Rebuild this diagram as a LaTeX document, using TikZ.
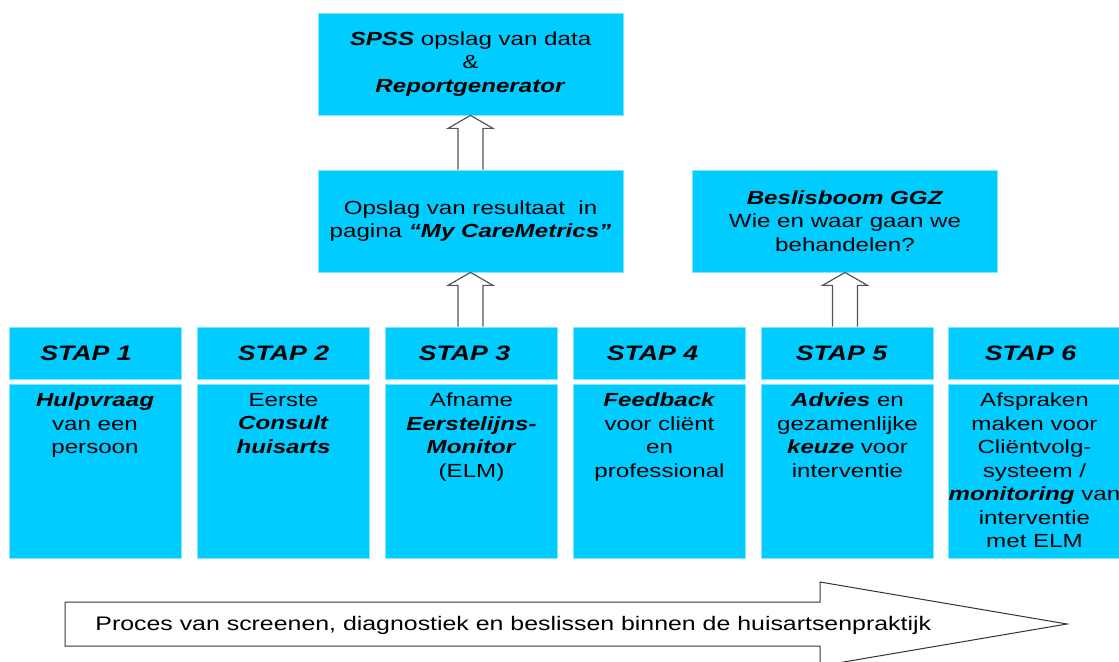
\documentclass[tikz,border=0pt]{standalone}
\usepackage{fontspec}
\setmainfont[FakeStretch=1.27]{Liberation Sans}
\usetikzlibrary{positioning,calc}

\definecolor{stapblue}{HTML}{00CCFF}
\definecolor{stapedge}{HTML}{80E6FF}
\definecolor{pijlgrijs}{HTML}{555555}

\newcommand{\vet}[1]{\textbf{\textit{#1}}}

% holle pijl van knoop #1 omhoog naar knoop #2
\newcommand{\holopijl}[2]{%
	\draw[holpijl] ($(#2.south |- #1.north)+(-12.5,0)$) -- ($(#2.south)+(-12.5,13)$)
		-- ($(#2.south)+(-22.5,13)$) -- (#2.south) -- ($(#2.south)+(22.5,13)$)
		-- ($(#2.south)+(12.5,13)$) -- ($(#2.south |- #1.north)+(12.5,0)$);
}

\tikzset{
	vak/.style={rectangle, fill=stapblue, draw=stapedge, line width=0.4pt, inner sep=0pt},
	stapkop/.style={vak, minimum width=86pt, minimum height=26pt,
		font=\fontsize{10.5}{12}\selectfont\bfseries\itshape},
	stapvak/.style={vak, minimum width=86pt, minimum height=87pt},
	stapnote/.style={align=center, inner sep=0pt, font=\fontsize{9.5}{11.75}\selectfont},
	blok/.style={vak, minimum width=152.5pt, minimum height=51pt, align=center,
		font=\fontsize{9.5}{11.75}\selectfont},
	holpijl/.style={draw=pijlgrijs, fill=white, line width=0.6pt, line join=miter},
	grootpijl/.style={draw=black!80, fill=white, line width=0.5pt, line join=miter},
}

\begin{document}
\begin{tikzpicture}[x=0.5pt, y=-0.5pt]
		\useasboundingbox (0, 0) rectangle (1119, 662);
		\clip (0, 0) rectangle (1119, 662);

		% de zes stappen
		\node[stapkop] (k1) at (95, 353) {\hspace*{-9pt}STAP 1};
		\node[stapkop] (k2) at (283.5, 353) {STAP 2};
		\node[stapkop] (k3) at (471.5, 353) {\hspace*{-7pt}STAP 3};
		\node[stapkop] (k4) at (659.5, 353) {\hspace*{-7pt}STAP 4};
		\node[stapkop] (k5) at (847.5, 353) {\hspace*{-6pt}STAP 5};
		\node[stapkop] (k6) at (1034.5, 353) {\hspace*{-4pt}STAP 6};

		\node[stapvak] (v1) at (95, 471) {};
		\node[stapvak] (v2) at (283.5, 471) {};
		\node[stapvak] (v3) at (471.5, 471) {};
		\node[stapvak] (v4) at (659.5, 471) {};
		\node[stapvak] (v5) at (847.5, 471) {};
		\node[stapvak] (v6) at (1034.5, 471) {};

		\node[stapnote, below=4.5pt of v1.north] (t1) {\vet{Hulpvraag}\\van een\\persoon};
		\node[stapnote, below=4.5pt of v2.north] (t2) {Eerste\\\vet{Consult}\\\vet{huisarts}};
		\node[stapnote, below=4.5pt of v3.north] (t3) {Afname\\\vet{Eerstelijns-}\\\vet{Monitor}\\(ELM)};
		\node[stapnote, below=4.5pt of v4.north] (t4) {\vet{Feedback}\\voor cliënt\\en\\professional};
		\node[stapnote, below=4.5pt of v5.north] (t5) {\vet{Advies} en\\gezamenlijke\\\vet{keuze} voor\\interventie};
		\node[stapnote, below=4.5pt of v6.north] (t6) {Afspraken\\maken voor\\Cliëntvolg-\\systeem /\\\vet{monitoring} van\\interventie\\met ELM};

		% opslag en beslisboom
		\node[blok] (opslag) at (470.5, 221) {Opslag van resultaat\ \ in\\pagina \vet{“My CareMetrics”}};
		\node[blok] (spss) at (470.5, 64) {\vet{SPSS} opslag van data\\\&\\\vet{Reportgenerator}};
		\node[blok] (beslis) at (845, 221) {\vet{Beslisboom GGZ}\\Wie en waar gaan we\\behandelen?};

		\holopijl{k3}{opslag}
		\holopijl{opslag}{spss}
		\holopijl{k5}{beslis}

		% procespijl onderaan
		\draw[grootpijl] (65, 602) -- (820, 602) -- (820, 582) -- (1067, 624) -- (820, 666) -- (820, 646)
			-- (65, 646) -- cycle;
		\node[anchor=base west, inner sep=0pt, font=\fontsize{9.8}{11.75}\selectfont] (proces) at (95, 630)
			{Proces van screenen, diagnostiek en beslissen binnen de huisartsenpraktijk};
	\end{tikzpicture}
\end{document}
